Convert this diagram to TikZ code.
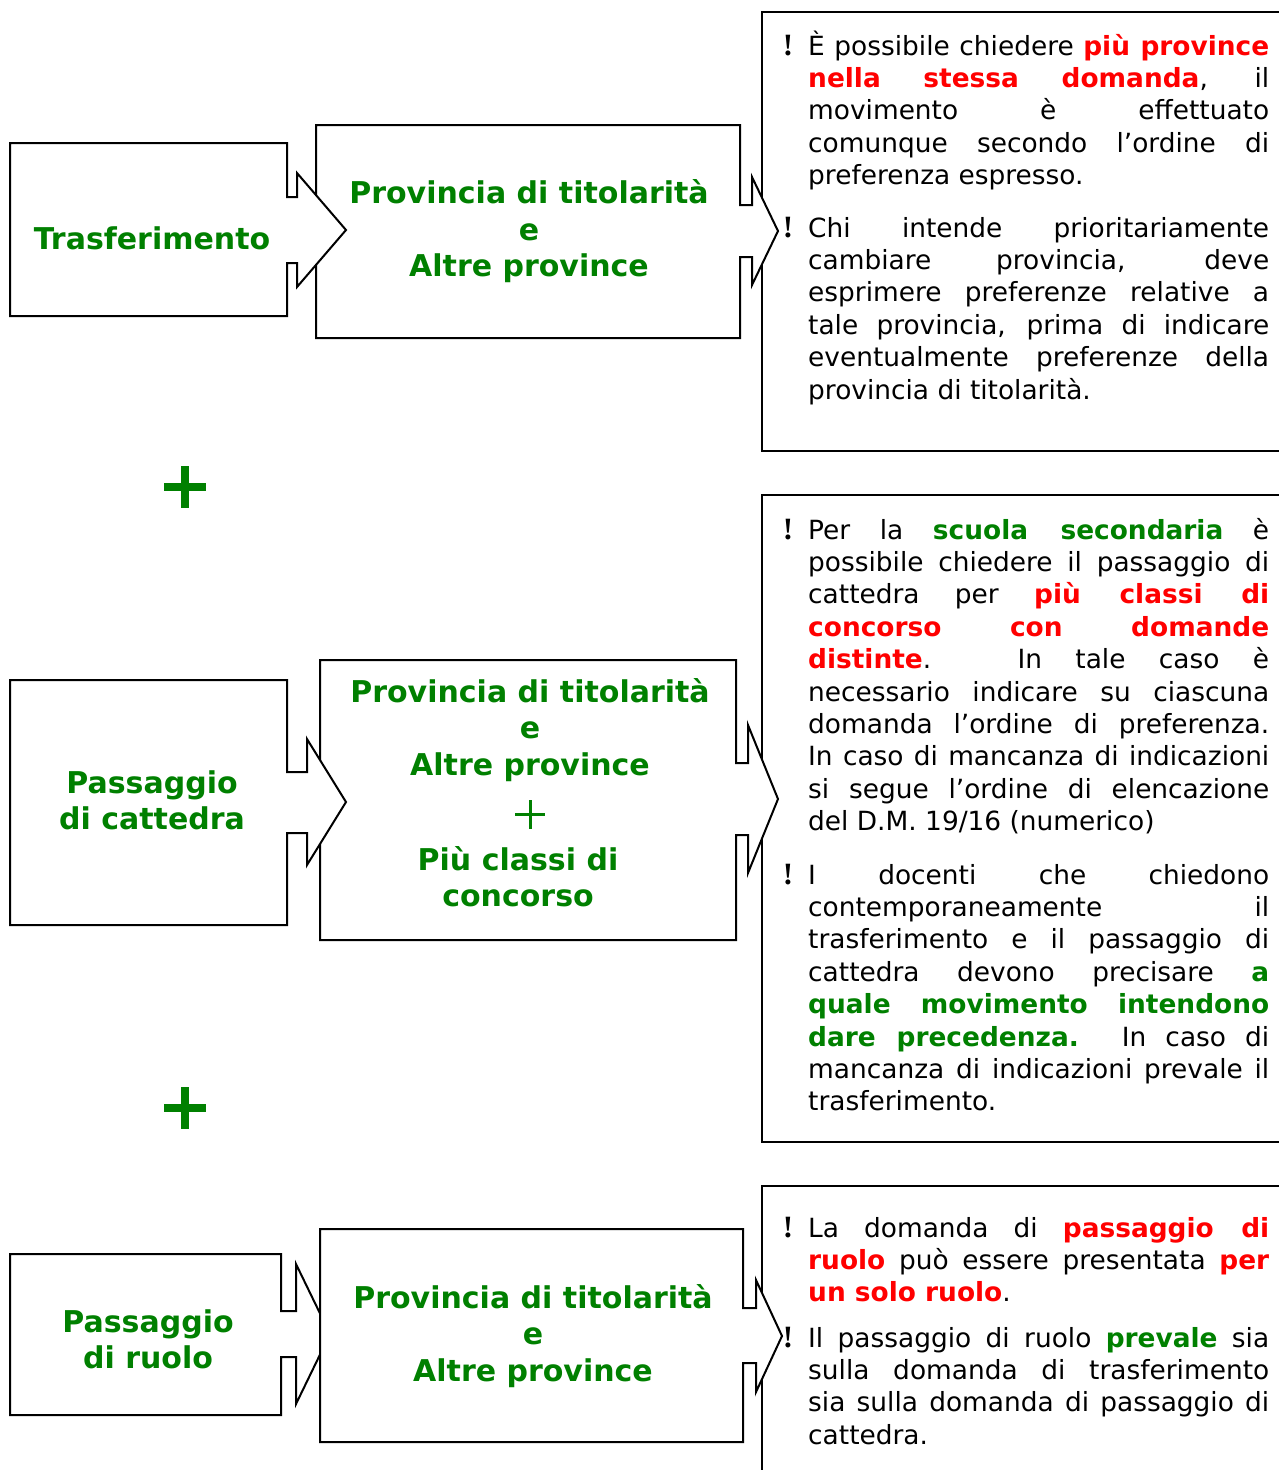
\documentclass[tikz,border=0pt]{standalone}
\usepackage{fontspec}
\setmainfont{DejaVu Sans}
\newfontfamily\exfont{Liberation Serif}
\definecolor{dgreen}{RGB}{0,128,0}
\definecolor{dred}{RGB}{255,0,0}
\newcommand\rb[1]{\textcolor{dred}{\textbf{#1}}}
\newcommand\gb[1]{\textcolor{dgreen}{\textbf{#1}}}
\newcommand\bodyfont{\fontsize{26.4}{32.4}\selectfont}
\newcommand\ttlfont{\fontsize{30}{36.5}\selectfont\bfseries}
\newcommand\parsetup{\bodyfont\hyphenpenalty=10000 \exhyphenpenalty=10000 \tolerance=10000 }
\tikzset{
  callout/.style={draw=black, line width=2pt, fill=white, line join=miter},
  tbox/.style={draw=black, line width=2pt, fill=white},
  ttl/.style={inner sep=0pt, anchor=base, text=dgreen, font=\ttlfont},
  para/.style={inner sep=0pt, anchor=base west, font=\bodyfont},
  bang/.style={inner sep=0pt, anchor=base, font=\exfont\bfseries\fontsize{31}{31}\selectfont},
  bigplus/.style={draw=dgreen, line width=8pt},
  smallplus/.style={draw=dgreen, line width=3pt}
}
\begin{document}
\begin{tikzpicture}[x=1pt, y=-1pt]
\useasboundingbox (0,0) rectangle (1279,1470);
\fill[white] (0,0) rectangle (1279,1470);

% text frames
\draw[tbox] (762,12) rectangle (1295,451);
\draw[tbox] (762,495) rectangle (1295,1142);
\draw[tbox] (762,1186) rectangle (1295,1490);

% row 1
\draw[callout] (316,125) -- (740,125) -- (740,205) -- (752,205) -- (752,177) -- (778,231) -- (752,285) -- (752,257) -- (740,257) -- (740,338) -- (316,338) -- cycle;
\draw[callout] (10,143) -- (287,143) -- (287,197) -- (297,197) -- (297,173) -- (346,230) -- (297,287) -- (297,263) -- (287,263) -- (287,316) -- (10,316) -- cycle;

% row 2
\draw[callout] (320,660) -- (736,660) -- (736,763) -- (748,763) -- (748,725) -- (778,799) -- (748,873) -- (748,835) -- (736,835) -- (736,940) -- (320,940) -- cycle;
\draw[callout] (10,680) -- (287,680) -- (287,772) -- (307,772) -- (307,739) -- (346,802) -- (307,865) -- (307,833) -- (287,833) -- (287,925) -- (10,925) -- cycle;

% row 3
\draw[callout] (10,1254) -- (281,1254) -- (281,1311) -- (296,1311) -- (296,1264) -- (330,1334) -- (296,1404) -- (296,1357) -- (281,1357) -- (281,1415) -- (10,1415) -- cycle;
\draw[callout] (320,1229) -- (743,1229) -- (743,1308) -- (756,1308) -- (756,1280) -- (782,1336) -- (756,1392) -- (756,1363) -- (743,1363) -- (743,1442) -- (320,1442) -- cycle;

% titles
\node[ttl] (t1) at (152,249) {\parbox[t]{270pt}{\centering Trasferimento}};
\node[ttl] (t2) at (529,203.5) {\parbox[t]{420pt}{\centering Provincia di titolarità\\e\\Altre province}};
\node[ttl] (t3) at (152,793) {\parbox[t]{270pt}{\centering Passaggio\\di cattedra}};
\node[ttl] (t4) at (530,702) {\parbox[t]{410pt}{\centering Provincia di titolarità\\e\\Altre province}};
\node[ttl] (t4b) at (518,870) {\parbox[t]{410pt}{\centering Più classi di\\concorso}};
\node[ttl] (t5) at (148,1332) {\parbox[t]{260pt}{\centering Passaggio\\di ruolo}};
\node[ttl] (t6) at (533,1308) {\parbox[t]{420pt}{\centering Provincia di titolarità\\e\\Altre province}};

% plus signs
\draw[smallplus] (515,814) -- (545,814);
\draw[smallplus] (530,800) -- (530,829);
\draw[bigplus] (164,487) -- (206,487);
\draw[bigplus] (185,466) -- (185,508);
\draw[bigplus] (164,1108) -- (206,1108);
\draw[bigplus] (185,1087) -- (185,1129);

% exclamation marks
\node[bang] (b1) at (788,55) {!};
\node[bang] (b2) at (788,237) {!};
\node[bang] (b3) at (788,539) {!};
\node[bang] (b4) at (788,884) {!};
\node[bang] (b5) at (788,1237) {!};
\node[bang] (b6) at (788,1347) {!};

% paragraphs
\node[para] (p1) at (808,55) {\parbox[t]{461pt}{\parsetup
È possibile chiedere \rb{più province}\linebreak
\rb{nella stessa domanda}, il\linebreak
movimento è effettuato\linebreak
comunque secondo l’ordine di\linebreak
preferenza espresso.}};
\node[para] (p2) at (808,237) {\parbox[t]{461pt}{\parsetup
Chi intende prioritariamente\linebreak
cambiare provincia, deve\linebreak
esprimere preferenze relative a\linebreak
tale provincia, prima di indicare\linebreak
eventualmente preferenze della\linebreak
provincia di titolarità.}};
\node[para] (p3) at (808,539) {\parbox[t]{461pt}{\parsetup
Per la \gb{scuola secondaria} è\linebreak
possibile chiedere il passaggio di\linebreak
cattedra per \rb{più classi di}\linebreak
\rb{concorso con domande}\linebreak
\rb{distinte}. In tale caso è\linebreak
necessario indicare su ciascuna\linebreak
domanda l’ordine di preferenza.\linebreak
In caso di mancanza di indicazioni\linebreak
si segue l’ordine di elencazione\linebreak
del D.M. 19/16 (numerico)}};
\node[para] (p4) at (808,884) {\parbox[t]{461pt}{\parsetup
I docenti che chiedono\linebreak
contemporaneamente il\linebreak
trasferimento e il passaggio di\linebreak
cattedra devono precisare \gb{a}\linebreak
\gb{quale movimento intendono}\linebreak
\gb{dare precedenza.} In caso di\linebreak
mancanza di indicazioni prevale il\linebreak
trasferimento.}};
\node[para] (p5) at (808,1237) {\parbox[t]{461pt}{\parsetup
La domanda di \rb{passaggio di}\linebreak
\rb{ruolo} può essere presentata \rb{per}\linebreak
\rb{un solo ruolo}.}};
\node[para] (p6) at (808,1347) {\parbox[t]{461pt}{\parsetup
Il passaggio di ruolo \gb{prevale} sia\linebreak
sulla domanda di trasferimento\linebreak
sia sulla domanda di passaggio di\linebreak
cattedra.}};
\end{tikzpicture}
\end{document}
